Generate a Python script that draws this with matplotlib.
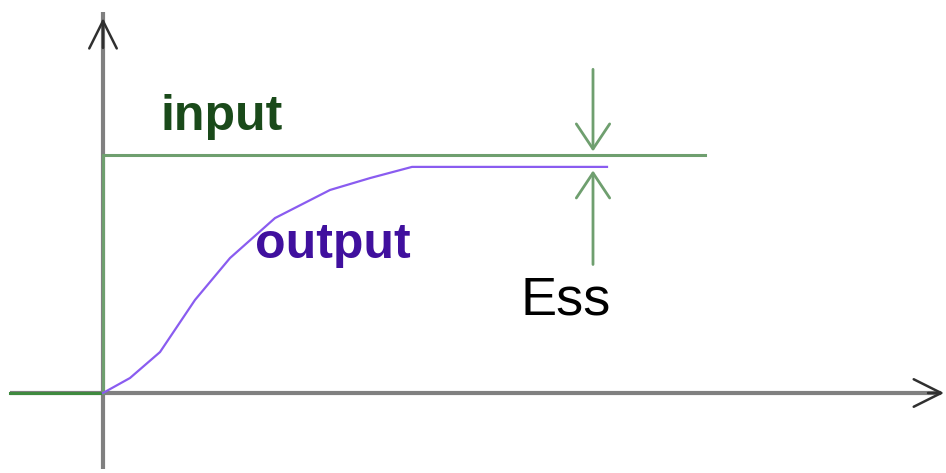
import numpy as np
import matplotlib.pyplot as plt

# step response: time (s) and output level (input step = 1)
t_out = [0.0, 0.27, 0.57, 0.92, 1.27, 1.72, 2.27, 2.67, 3.09, 4.37, 5.04]
y_out = [0.0, 0.063, 0.172, 0.391, 0.567, 0.735, 0.853, 0.903, 0.950, 0.950, 0.950]
t_in_start, t_in_end = -0.93, 6.02
input_level = 1.0
ess_t = 4.90
labels = ["input", "output", "Ess"]

plt.rcParams['font.family'] = ['Liberation Sans', 'DejaVu Sans']
fig = plt.figure(figsize=(9.46, 4.73), dpi=100)
ax = fig.add_axes([0, 0, 1, 1])
ax.set_xlim(-1.03, 8.43)
ax.set_ylim(-80 / 238, 393 / 238)
ax.axis('off')

axis_col = '#808080'
green = '#6f9f6f'
purple = '#8a5cf0'

# axes lines, then dark open arrow heads
ax.plot([-0.93, 8.38], [0, 0], color=axis_col, lw=3, solid_capstyle='butt')
ax.plot([0, 0], [-0.32, 1.60], color=axis_col, lw=3, solid_capstyle='butt')
hs = '->,head_length=0.9,head_width=0.45'
ax.annotate('', xy=(8.41, 0), xytext=(8.25, 0),
            arrowprops=dict(arrowstyle=hs, color='#303030', lw=1.8, mutation_scale=22,
                            shrinkA=0, shrinkB=0))
ax.annotate('', xy=(0, 1.575), xytext=(0, 1.45),
            arrowprops=dict(arrowstyle=hs, color='#303030', lw=1.8, mutation_scale=22,
                            shrinkA=0, shrinkB=0))

# input step
ax.plot([t_in_start, 0], [0, 0], color='#3f8a3f', lw=2.2)
ax.plot([0, 0], [0, input_level], color=green, lw=2.2)
ax.plot([0, t_in_end], [input_level, input_level], color=green, lw=2.2)

# output
ax.plot(t_out, y_out, color=purple, lw=1.6)

# steady state error arrows
es = '->,head_length=0.6,head_width=0.4'
ax.annotate('', xy=(ess_t, input_level + 0.015), xytext=(ess_t, 1.36),
            arrowprops=dict(arrowstyle=es, color=green, lw=2, mutation_scale=30,
                            shrinkA=0, shrinkB=0))
ax.annotate('', xy=(ess_t, y_out[-1] - 0.015), xytext=(ess_t, 0.54),
            arrowprops=dict(arrowstyle=es, color=green, lw=2, mutation_scale=30,
                            shrinkA=0, shrinkB=0))

ax.text(0.57, 1.16, labels[0], color='#1a4a1a', fontsize=36, fontweight='bold',
        ha='left', va='center')
ax.text(1.52, 0.62, labels[1], color='#40109e', fontsize=36, fontweight='bold',
        ha='left', va='center')
ax.text(4.17, 0.39, labels[2], color='black', fontsize=39,
        ha='left', va='center')

fig.savefig('out.png', dpi=100)
